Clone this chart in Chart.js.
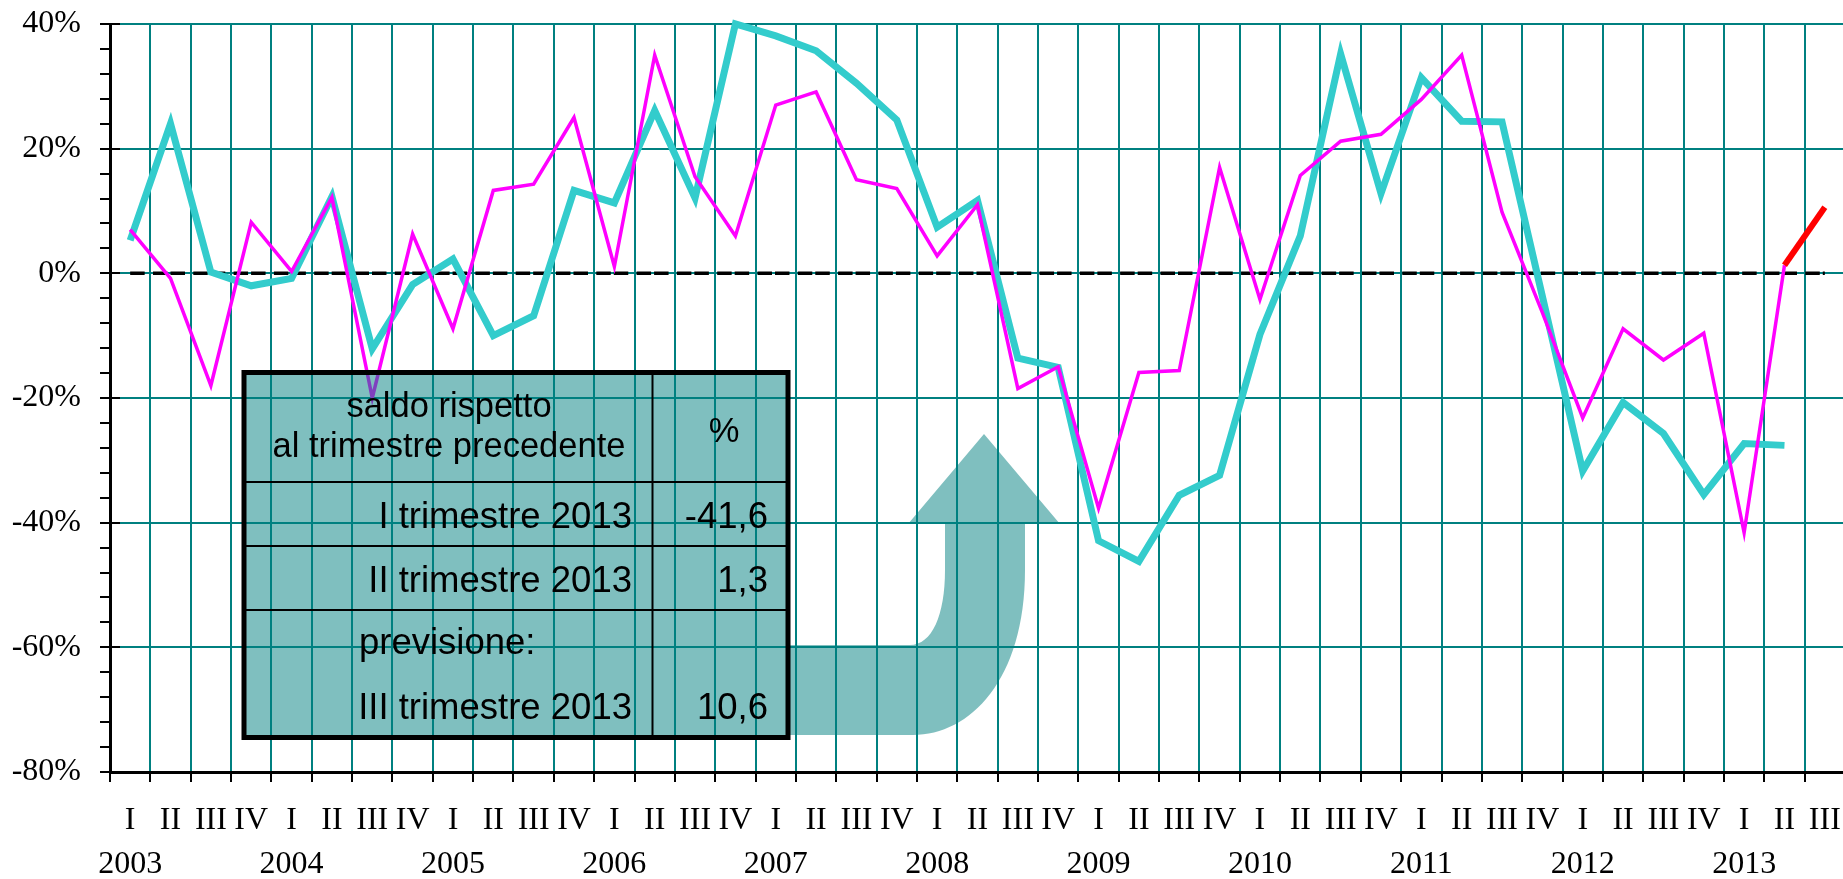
<!DOCTYPE html>
<html lang="it">

<head>
  <meta charset="UTF-8">
  <title>Saldo rispetto al trimestre precedente</title>
  <script src="https://cdn.jsdelivr.net/npm/chart.js"></script>
  <style>
    body { margin: 0; overflow: hidden; background: #fff; }
    #wrap { width: 1846px; height: 879px; }
  </style>
</head>

<body>
  <div id="wrap"><canvas id="saldoChart"></canvas></div>

  <script>
    // Quarters I 2003 .. III 2013
    const romans = ['I', 'II', 'III', 'IV'];
    const years = ['2003', '2004', '2005', '2006', '2007', '2008', '2009', '2010', '2011', '2012', '2013'];
    const quarterCount = 43;

    // saldo rispetto al trimestre precedente (%), magenta
    const saldo = [7.0, -0.8, -18.0, 8.2, 0.3, 12.2, -20.0, 6.3, -8.9, 13.3, 14.3, 25.0,
      1.1, 35.0, 15.5, 6.0, 27.0, 29.1, 15.0, 13.6, 2.8, 11.0, -18.5, -15.0,
      -37.7, -15.9, -15.6, 17.0, -4.2, 15.7, 21.2, 22.3, 27.9, 35.0, 9.8, -6.3,
      -23.2, -8.9, -13.9, -9.6, -41.6, 1.3, null];

    // second series, cyan
    const trend = [5.3, 24.0, 0.2, -2.0, -0.8, 12.3, -12.1, -1.8, 2.3, -10.0, -6.8, 13.3,
      11.3, 26.1, 12.1, 40.0, 38.1, 35.7, 30.5, 24.6, 7.4, 11.7, -13.6, -15.1,
      -42.9, -46.2, -35.6, -32.4, -9.8, 6.0, 35.2, 12.8, 31.4, 24.4, 24.3, -3.7,
      -31.7, -20.7, -25.7, -35.5, -27.3, -27.6, null];

    // previsione III trimestre 2013 (red)
    const forecastFrom = 41;
    const forecastValues = [1.3, 10.6];

    // table text
    const tableHeader = ['saldo rispetto', 'al trimestre precedente'];
    const tableRows = [
      ['I trimestre 2013', '-41,6'],
      ['II trimestre 2013', '1,3'],
      ['III trimestre 2013', '10,6']
    ];

    // build labels: roman numeral + year under the first quarter
    const labels = [];
    for (let i = 0; i < quarterCount; i++) {
      const q = i % 4;
      labels.push([romans[q], q === 0 ? years[Math.floor(i / 4)] : '']);
    }
    const forecast = labels.map((_, i) => {
      const k = i - forecastFrom;
      return k >= 0 && k < forecastValues.length ? forecastValues[k] : null;
    });
    const zeroLine = labels.map(() => 0);

    const TEAL = '#008080';
    const SHADE = 'rgba(0,128,128,0.5)';

    // table + arrow drawn over the lines, plus the right half of the major y ticks
    const overlayPlugin = {
      id: 'overlay',
      afterDatasetsDraw(chart) {
        const ctx = chart.ctx;
        ctx.save();

        // arrow
        ctx.fillStyle = SHADE;
        ctx.beginPath();
        ctx.moveTo(789, 645);
        ctx.lineTo(910, 645);
        ctx.bezierCurveTo(932, 645, 945, 615, 945, 570);
        ctx.lineTo(945, 524);
        ctx.lineTo(908, 524);
        ctx.lineTo(984, 434);
        ctx.lineTo(1060, 524);
        ctx.lineTo(1025, 524);
        ctx.lineTo(1025, 570);
        ctx.bezierCurveTo(1025, 680, 970, 735, 913, 735);
        ctx.lineTo(789, 735);
        ctx.closePath();
        ctx.fill();

        // table
        const L = 244, R = 788, T = 372.5, B = 737.5, C = 652.5;
        const rowLines = [482, 546, 610];
        ctx.fillStyle = SHADE;
        ctx.fillRect(L, T, R - L, B - T);
        ctx.strokeStyle = '#000';
        ctx.lineWidth = 2;
        ctx.beginPath();
        rowLines.forEach(y => { ctx.moveTo(L, y); ctx.lineTo(R, y); });
        ctx.moveTo(C, T);
        ctx.lineTo(C, B);
        ctx.stroke();
        ctx.lineWidth = 5;
        ctx.strokeRect(L, T, R - L, B - T);

        ctx.fillStyle = '#000';
        ctx.textBaseline = 'alphabetic';
        ctx.font = '34.5px "Liberation Sans", Arial, sans-serif';
        ctx.textAlign = 'center';
        ctx.fillText(tableHeader[0], 449, 417);
        ctx.fillText(tableHeader[1], 449, 457);
        ctx.fillText('%', 724, 442);

        ctx.font = '36.5px "Liberation Sans", Arial, sans-serif';
        ctx.textAlign = 'right';
        ctx.fillText(tableRows[0][0], 632, 528);
        ctx.fillText(tableRows[0][1], 768, 528);
        ctx.fillText(tableRows[1][0], 632, 592);
        ctx.fillText(tableRows[1][1], 768, 592);
        ctx.textAlign = 'left';
        ctx.fillText('previsione:', 359, 654);
        ctx.textAlign = 'right';
        ctx.fillText(tableRows[2][0], 632, 719);
        ctx.fillText(tableRows[2][1], 768, 719);
        ctx.restore();
      },
      afterDraw(chart) {
        const ctx = chart.ctx;
        const y = chart.scales.y;
        ctx.save();
        ctx.strokeStyle = '#000';
        ctx.lineWidth = 2;
        ctx.beginPath();
        y.ticks.forEach(t => {
          if (Math.round(t.value) % 20 === 0) {
            const py = Math.round(y.getPixelForValue(t.value));
            ctx.moveTo(y.right, py);
            ctx.lineTo(y.right + 10, py);
          }
        });
        ctx.stroke();
        ctx.restore();
      }
    };

    Chart.defaults.font.family = '"Liberation Serif", "Times New Roman", serif';
    Chart.defaults.color = '#000';

    const ctx = document.getElementById('saldoChart').getContext('2d');
    new Chart(ctx, {
      type: 'line',
      data: {
        labels: labels,
        datasets: [
          {
            label: 'previsione',
            data: forecast,
            borderColor: '#FF0000',
            borderWidth: 6,
            pointRadius: 0,
            order: 0
          },
          {
            label: 'saldo',
            data: saldo,
            borderColor: '#FF00FF',
            borderWidth: 3.5,
            pointRadius: 0,
            order: 1
          },
          {
            label: 'trend',
            data: trend,
            borderColor: '#33CCCC',
            borderWidth: 7,
            pointRadius: 0,
            clip: false,
            order: 2
          },
          {
            label: 'zero',
            data: zeroLine,
            borderColor: '#000',
            borderWidth: 3.5,
            borderDash: [14.5, 8.3, 14.5, 3],
            pointRadius: 0,
            order: 3
          }
        ]
      },
      options: {
        responsive: true,
        maintainAspectRatio: false,
        animation: false,
        layout: { padding: { top: 24, right: 1, bottom: 0, left: 0 } },
        plugins: {
          legend: { display: false },
          tooltip: { enabled: false }
        },
        scales: {
          x: {
            offset: true,
            grid: {
              offset: true,
              color: TEAL,
              lineWidth: 2,
              tickColor: '#000',
              tickLength: 10,
              tickWidth: 2
            },
            border: { color: '#000', width: 3 },
            ticks: {
              autoSkip: false,
              maxRotation: 0,
              minRotation: 0,
              padding: 17,
              font: { size: 32, lineHeight: 1.36 }
            },
            afterFit: (scale) => {
              scale.height = 107;
              scale.paddingLeft = 0;
              scale.paddingRight = 0;
            }
          },
          y: {
            min: -80,
            max: 40,
            grid: {
              color: (c) => (c.tick && Math.round(c.tick.value) % 20 === 0) ? TEAL : 'rgba(0,0,0,0)',
              lineWidth: 2,
              tickColor: '#000',
              tickLength: 10,
              tickWidth: 2
            },
            border: { color: '#000', width: 3 },
            ticks: {
              stepSize: 4,
              autoSkip: false,
              padding: 19,
              font: { size: 32 },
              callback: (v) => Math.round(v) % 20 === 0 ? Math.round(v) + '%' : ''
            },
            afterFit: (scale) => {
              scale.width = 110;
              scale.paddingTop = 0;
              scale.paddingBottom = 0;
            }
          }
        }
      },
      plugins: [overlayPlugin]
    });
  </script>
</body>

</html>
